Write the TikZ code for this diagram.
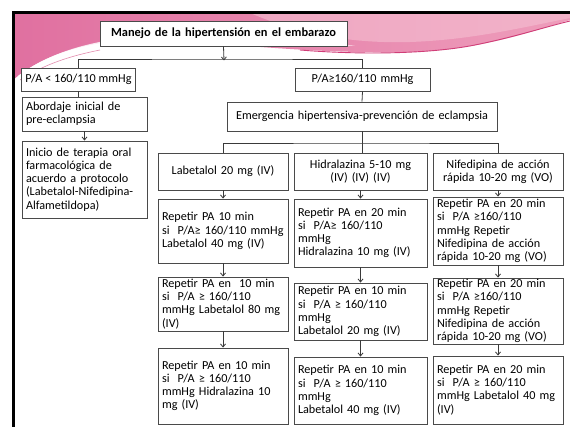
\documentclass[tikz,border=0pt]{standalone}
\usepackage{fontspec}
\setmainfont{Carlito}
\usetikzlibrary{arrows.meta}
\definecolor{boxgray}{HTML}{4A4A4A}
\definecolor{linegray}{HTML}{3A3A3A}
\definecolor{pinkdeep}{HTML}{E070A0}
\definecolor{pinkmid}{HTML}{EE9DBB}
\definecolor{pinklight}{HTML}{F5C0D2}
\definecolor{pinkline}{HTML}{D03E78}
\tikzset{
  box/.style={draw=boxgray, line width=0.9pt, fill=white, inner xsep=4pt, inner ysep=1pt,
              font=\fontsize{12.2}{13.2}\selectfont},
  lbox/.style={box, align=left},
  cbox/.style={box, align=center},
  conn/.style={draw=linegray, line width=0.8pt},
  arr/.style={conn, -{Straight Barb[length=3pt,width=5pt]}}
}
\begin{document}
\begin{tikzpicture}[x=1pt, y=-1pt]
\useasboundingbox (0,0) rectangle (570,427);
\fill[white] (0,0) rectangle (570,427);

% pink header band
\shade[left color=pinkdeep, right color=pinkmid]
  (13,13) -- (570,13) -- (570,20)
  .. controls (530,32) and (480,50) .. (410,52)
  .. controls (330,54) and (250,46) .. (170,40)
  .. controls (100,36) and (45,52) .. (13,80) -- cycle;
\fill[pinklight, opacity=0.6]
  (250,13) -- (570,13) -- (570,18)
  .. controls (520,28) and (470,40) .. (410,42)
  .. controls (340,44) and (290,30) .. (250,13) -- cycle;
% white swoosh
\fill[white, opacity=0.85]
  (18,76) .. controls (50,52) and (95,38) .. (160,35)
  .. controls (230,33) and (300,38) .. (355,46)
  .. controls (300,43) and (230,40) .. (160,40)
  .. controls (100,42) and (55,58) .. (26,80) -- cycle;
% darker streaks along the lower edge
\draw[pinkline, line width=0.9pt]
  (300,50) .. controls (360,55) and (430,54) .. (475,45)
  .. controls (515,37) and (545,27) .. (570,21);
\draw[pinkline!60, line width=0.6pt]
  (20,80) .. controls (45,64) and (70,56) .. (100,50);

% slide frame
\draw[black, line width=3pt] (13,427) -- (13,13) -- (570,13);

% nodes
\node[cbox, text width=239pt, minimum height=25pt, font=\fontsize{12.4}{13.2}\selectfont\bfseries] (t) at (223.5,33.5) {Manejo de la hipertensión en el embarazo};

\node[box, minimum width=113pt, minimum height=23pt] (pl) at (78.5,79.5) {P/A < 160/110 mmHg};
\node[cbox, text width=127pt, minimum height=23pt] (pg) at (362.5,79.5) {P/A≥160/110 mmHg};

\node[lbox, text width=117pt, minimum height=34pt] (ab) at (84.5,114) {Abordaje inicial de\\pre-eclampsia};
\node[lbox, text width=117pt, minimum height=77pt] (ini) at (84.5,179.5) {Inicio de terapia oral\\farmacológica de\\acuerdo a protocolo\\(Labetalol-Nifedipina-\\Alfametildopa)};

\node[cbox, text width=262pt, minimum height=29pt] (em) at (362,116.5) {Emergencia hipertensiva-prevención de eclampsia};

\node[cbox, text width=122pt, minimum height=37pt] (c1) at (223,171.5) {Labetalol 20 mg (IV)};
\node[cbox, text width=125pt, minimum height=37pt] (c2) at (360.5,171.5) {Hidralazina 5-10 mg\\(IV) (IV) (IV)};
\node[cbox, text width=122pt, minimum height=37pt] (c3) at (498,171.5) {Nifedipina de acción\\rápida 10-20 mg (VO)};

\node[lbox, text width=122pt, minimum height=64pt] (c1a) at (223,231) {Repetir PA 10 min\\si\ \ P/A≥ 160/110 mmHg\\Labetalol 40 mg (IV)};
\node[lbox, text width=125pt, minimum height=68pt] (c2a) at (360.5,233) {Repetir PA en 20 min\\si\ \ P/A≥ 160/110\\mmHg\\Hidralazina 10 mg (IV)};
\node[lbox, text width=122pt, minimum height=68pt] (c3a) at (498,231) {Repetir PA en 20 min\\si\ \ P/A ≥160/110\\mmHg Repetir\\Nifedipina de acción\\rápida 10-20 mg (VO)};

\node[lbox, text width=122pt, minimum height=54pt] (c1b) at (223,304) {Repetir PA en\ \ 10 min\\si\ \ P/A ≥ 160/110\\mmHg Labetalol 80 mg\\(IV)};
\node[lbox, text width=125pt, minimum height=57pt] (c2b) at (360.5,311.5) {Repetir PA en 10 min\\si\ \ P/A ≥ 160/110\\mmHg\\Labetalol 20 mg (IV)};
\node[lbox, text width=122pt, minimum height=66pt] (c3b) at (498,311) {Repetir PA en 20 min\\si\ \ P/A ≥160/110\\mmHg Repetir\\Nifedipina de acción\\rápida 10-20 mg (VO)};

\node[lbox, text width=122pt, minimum height=76pt] (c1c) at (223,386) {Repetir PA en 10 min\\si\ \ P/A ≥ 160/110\\mmHg Hidralazina 10\\mg (IV)};
\node[lbox, text width=125pt, minimum height=67pt] (c2c) at (360.5,390.5) {Repetir PA en 10 min\\si\ \ P/A ≥ 160/110\\mmHg\\Labetalol 40 mg (IV)};
\node[lbox, text width=122pt, minimum height=68pt] (c3c) at (498,390) {Repetir PA en 20 min\\si\ \ P/A ≥ 160/110\\mmHg Labetalol 40 mg\\(IV)};

% connectors
\coordinate (j0) at (224,59);
\coordinate (j1) at (362,143);
\draw[arr] (t.south) -- ([yshift=-1.5pt]j0);
\draw[conn] (pl.north) |- (j0) -| (pg.north);
\draw[conn] (pl.south) -- (pl.south |- ab.north);
\draw[arr] (ab.south) -- (ini.north);
\draw[conn] (pg.south) -- (em.north);
\draw[conn] (em.south) -- (j1);
\draw[conn] (c1.north) |- (j1) -| (c3.north);
\draw[conn] (j1) -- (j1 |- c2.north);

\draw[arr] (c1.south) -- (c1a.north);
\draw[arr] (c1a.south) -- (c1b.north);
\draw[arr] (c1b.south) -- (c1c.north);
\draw[arr] (c2.south) -- (c2a.north);
\draw[arr] (c2a.south) -- (c2b.north);
\draw[arr] (c2b.south) -- (c2c.north);
\draw[arr] (c3.south) -- (c3a.north);
\draw[arr] (c3a.south) -- (c3b.north);
\draw[arr] (c3b.south) -- (c3c.north);
\end{tikzpicture}
\end{document}
